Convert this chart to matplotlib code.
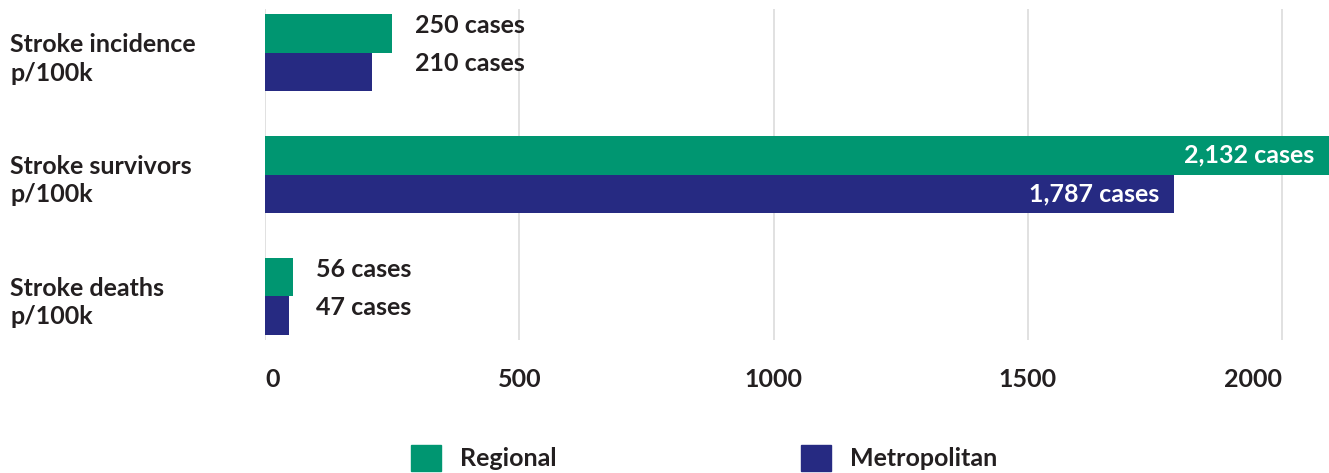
import matplotlib.pyplot as plt
from matplotlib.patches import Patch
from matplotlib.transforms import blended_transform_factory

plt.rcParams['font.family'] = ['Lato', 'DejaVu Sans']

categories = ["Stroke incidence\np/100k", "Stroke survivors\np/100k", "Stroke deaths\np/100k"]
regional = [250, 2132, 56]
metropolitan = [210, 1787, 47]
series_names = ["Regional", "Metropolitan"]
xticks = [0, 500, 1000, 1500, 2000]

GREEN = "#009671"
BLUE = "#262a82"
TEXT = "#231f20"
FS = 18
W, H = 1329, 473

fig = plt.figure(figsize=(W / 100, H / 100), dpi=100)
ax = fig.add_axes([265 / W, 1 - 340 / H, 1 - 265 / W, (340 - 9) / H])

bh = 0.315
ypos = list(range(len(categories)))
ax.barh([y - bh / 2 for y in ypos], regional, height=bh, color=GREEN, zorder=2)
ax.barh([y + bh / 2 for y in ypos], metropolitan, height=bh, color=BLUE, zorder=2)

xmax = 2092
ax.set_xlim(0, xmax)
ax.set_ylim(2.36, -0.36)

# value labels: outside for short bars, inside (white) for long ones
for y, r, m in zip(ypos, regional, metropolitan):
    for v, dy in ((r, -bh / 2), (m, bh / 2)):
        txt = f"{v:,} cases"
        if max(r, m) > 1000:
            ax.annotate(txt, (min(v, xmax), y + dy), xytext=(-15, 0), textcoords="offset pixels",
                        ha="right", va="center", color="white", fontsize=FS, fontweight="bold")
        else:
            ax.annotate(txt, (max(r, m), y + dy), xytext=(23, 8), textcoords="offset pixels",
                        ha="left", va="center", color=TEXT, fontsize=FS, fontweight="bold")

# category labels flush with the left edge of the figure
trans = blended_transform_factory(fig.transFigure, ax.transData)
for y, c in zip(ypos, categories):
    ax.text(10 / W, y + 0.05, c, transform=trans, ha="left", va="center",
            color=TEXT, fontsize=FS, fontweight="bold", linespacing=1.28)

ax.set_yticks([])
ax.set_xticks(xticks)
labels = ax.set_xticklabels([str(t) for t in xticks], fontsize=FS, fontweight="bold", color=TEXT)
labels[0].set_ha("left")
labels[-1].set_ha("right")
ax.tick_params(axis="x", length=0, pad=20)
ax.grid(axis="x", color="#dcdcdc", linewidth=1.2, zorder=0)
for s in ax.spines.values():
    s.set_visible(False)

handles = [Patch(color=GREEN), Patch(color=BLUE)]
fig.legend(handles, series_names, loc="center left", bbox_to_anchor=(411 / W, 15 / H),
           ncol=2, frameon=False, prop={"weight": "bold", "size": FS},
           handlelength=1.2, handleheight=1.2, handletextpad=0.75, columnspacing=9.8,
           borderpad=0, borderaxespad=0, labelcolor=TEXT)

fig.savefig("out.png", dpi=100)
